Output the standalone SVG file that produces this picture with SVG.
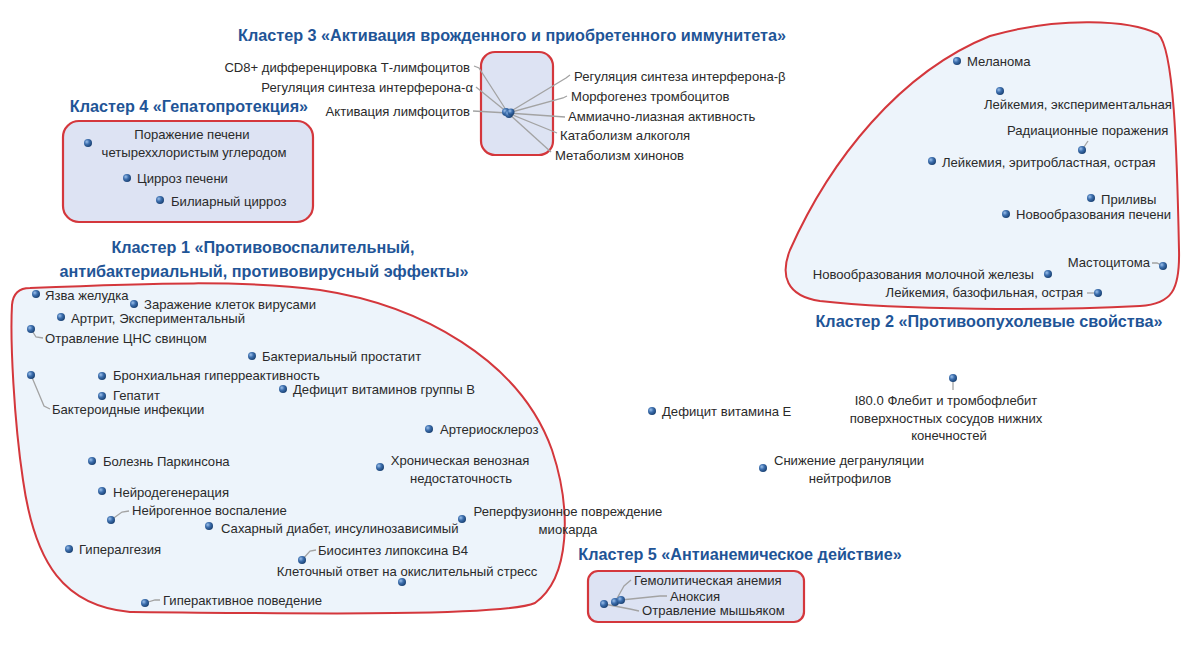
<svg xmlns="http://www.w3.org/2000/svg" width="1200" height="650" viewBox="0 0 1200 650">
<defs>
<radialGradient id="ball" cx="0.35" cy="0.35" r="0.7">
<stop offset="0" stop-color="#9cc0ea"/>
<stop offset="0.45" stop-color="#3d6fae"/>
<stop offset="1" stop-color="#183f70"/>
</radialGradient>
<style>
.t{font-family:"Liberation Sans",Arial,sans-serif;font-size:13.1px;fill:#2a2a2a}
.e{text-anchor:end}
.m{text-anchor:middle}
.h{font-family:"Liberation Sans",Arial,sans-serif;font-size:16.2px;font-weight:bold;fill:#1f5597}
.blob{fill:#edf4fb;stroke:#d4373c;stroke-width:2}
.box{fill:#dde3f3;stroke:#d4373c;stroke-width:2.2}
.d{fill:url(#ball)}
.c{fill:none;stroke:#a3a3a3;stroke-width:1.3}
</style>
</defs>
<rect width="1200" height="650" fill="#ffffff"/>

<!-- cluster containers -->
<g id="cluster1-area"><path class="blob" d="M30,288 C150,283 250,280 320,290 C420,305 520,360 552,450 C572,510 570,578 535,603 C505,616 320,614 130,612 C65,606 35,565 23,480 C14,420 10,340 12,305 C13,293 20,288 30,288 Z"/></g>
<g id="cluster2-area"><path class="blob" d="M790,250 C830,160 900,72 990,36 C1060,16 1130,20 1158,34 C1174,48 1177,150 1179,250 C1180,290 1172,304 1140,306 C1050,311 900,310 820,301 C786,296 780,275 790,250 Z"/></g>
<g id="cluster3-area"><rect class="box" x="481" y="52" width="72" height="103" rx="14"/></g>
<g id="cluster4-area"><rect class="box" x="63" y="121" width="250" height="101" rx="16"/></g>
<g id="cluster5-area"><rect class="box" x="588" y="571" width="216" height="51" rx="10"/></g>

<!-- titles -->
<g id="title3"><text class="h m" x="512" y="41">Кластер 3 «Активация врожденного и приобретенного иммунитета»</text></g>
<g id="title4"><text class="h m" x="189" y="112">Кластер 4 «Гепатопротекция»</text></g>
<g id="title1"><text class="h m" x="263" y="253">Кластер 1 «Противовоспалительный,</text><text class="h m" x="264" y="277">антибактериальный, противовирусный эффекты»</text></g>
<g id="title2"><text class="h m" x="989" y="327">Кластер 2 «Противоопухолевые свойства»</text></g>
<g id="title5"><text class="h m" x="740" y="560">Кластер 5 «Антианемическое действие»</text></g>

<!-- connectors -->
<g id="connectors">
<path class="c" d="M474,66 L479,68 L508,113"/>
<path class="c" d="M476,87 L508,113"/>
<path class="c" d="M473,111 L508,113"/>
<path class="c" d="M570,75 L566,78 L508,113"/>
<path class="c" d="M567,96 L563,98 L508,113"/>
<path class="c" d="M565,117 L508,113"/>
<path class="c" d="M557,133 L508,113"/>
<path class="c" d="M551,152 L508,113"/>
<path class="c" d="M31,329 L36,337 L43,338"/>
<path class="c" d="M31,375 L44,406 L50,409"/>
<path class="c" d="M111,520 L122,512 L129,511"/>
<path class="c" d="M302,560 L310,551 L316,550"/>
<path class="c" d="M145,603 L155,600 L160,600"/>
<path class="c" d="M1082,150 L1088,141"/>
<path class="c" d="M1152,263 L1157,263 L1163,266"/>
<path class="c" d="M1087,293 L1098,293"/>
<path class="c" d="M953,378 L953,390"/>
<path class="c" d="M615,602 L624,586 L631,580"/>
<path class="c" d="M621,600 L660,596 L667,596"/>
<path class="c" d="M604,604 L630,609 L639,611"/>
</g>

<!-- cluster 3 nodes -->
<g id="n3-cd8"><text class="t e" x="470" y="72">CD8+ дифференцировка Т-лимфоцитов</text></g>
<g id="n3-ifa"><text class="t e" x="473" y="92">Регуляция синтеза интерферона-α</text></g>
<g id="n3-act"><text class="t e" x="470" y="116">Активация лимфоцитов</text></g>
<g id="n3-ifb"><text class="t" x="574" y="81">Регуляция синтеза интерферона-β</text></g>
<g id="n3-morph"><text class="t" x="571" y="101">Морфогенез тромбоцитов</text></g>
<g id="n3-amm"><text class="t" x="568" y="121">Аммиачно-лиазная активность</text></g>
<g id="n3-alc"><text class="t" x="560" y="140">Катаболизм алкоголя</text></g>
<g id="n3-quin"><text class="t" x="555" y="160">Метаболизм хинонов</text></g>
<g id="n3-hub"><circle class="d" cx="506" cy="112" r="4"/><circle class="d" cx="509" cy="114" r="4"/><circle class="d" cx="511" cy="112" r="3.5"/></g>

<!-- cluster 4 nodes -->
<g id="n4-ccl4"><circle class="d" cx="88" cy="143" r="4"/><text class="t m" x="192" y="139">Поражение печени</text><text class="t m" x="194" y="157">четыреххлористым углеродом</text></g>
<g id="n4-cirr"><circle class="d" cx="127" cy="178" r="4"/><text class="t" x="137" y="183">Цирроз печени</text></g>
<g id="n4-bil"><circle class="d" cx="160" cy="200" r="4"/><text class="t" x="171" y="206">Билиарный цирроз</text></g>

<!-- cluster 1 nodes -->
<g id="n1-ulcer"><circle class="d" cx="36" cy="294" r="4"/><text class="t" x="45" y="300">Язва желудка</text></g>
<g id="n1-virus"><circle class="d" cx="134" cy="304" r="4"/><text class="t" x="144" y="309">Заражение клеток вирусами</text></g>
<g id="n1-arth"><circle class="d" cx="61" cy="317" r="4"/><text class="t" x="71" y="323">Артрит, Экспериментальный</text></g>
<g id="n1-lead"><circle class="d" cx="31" cy="329" r="4"/><text class="t" x="45" y="343">Отравление ЦНС свинцом</text></g>
<g id="n1-prost"><circle class="d" cx="252" cy="356" r="4"/><text class="t" x="262" y="361">Бактериальный простатит</text></g>
<g id="n1-bronch"><circle class="d" cx="102" cy="376" r="4"/><text class="t" x="113" y="380">Бронхиальная гиперреактивность</text></g>
<g id="n1-hep"><circle class="d" cx="102" cy="396" r="4"/><text class="t" x="113" y="400">Гепатит</text></g>
<g id="n1-vitb"><circle class="d" cx="283" cy="389" r="4"/><text class="t" x="293" y="394">Дефицит витаминов группы В</text></g>
<g id="n1-bact"><circle class="d" cx="31" cy="375" r="4"/><text class="t" x="52" y="414">Бактероидные инфекции</text></g>
<g id="n1-arter"><circle class="d" cx="429" cy="429" r="4"/><text class="t" x="440" y="434">Артериосклероз</text></g>
<g id="n1-park"><circle class="d" cx="92" cy="461" r="4"/><text class="t" x="103" y="466">Болезнь Паркинсона</text></g>
<g id="n1-ven"><circle class="d" cx="380" cy="467" r="4"/><text class="t m" x="460" y="465">Хроническая венозная</text><text class="t m" x="461" y="483">недостаточность</text></g>
<g id="n1-neurod"><circle class="d" cx="102" cy="491" r="4"/><text class="t" x="113" y="497">Нейродегенерация</text></g>
<g id="n1-neuroi"><circle class="d" cx="111" cy="520" r="4"/><text class="t" x="132" y="515">Нейрогенное воспаление</text></g>
<g id="n1-diab"><circle class="d" cx="209" cy="526" r="4"/><text class="t" x="221" y="533">Сахарный диабет, инсулинозависимый</text></g>
<g id="n1-reperf"><circle class="d" cx="462" cy="519" r="4"/><text class="t m" x="568" y="516">Реперфузионное повреждение</text><text class="t m" x="568" y="534">миокарда</text></g>
<g id="n1-hyperalg"><circle class="d" cx="69" cy="549" r="4"/><text class="t" x="79" y="554">Гипералгезия</text></g>
<g id="n1-lipox"><circle class="d" cx="302" cy="560" r="4"/><text class="t" x="318" y="555">Биосинтез липоксина B4</text></g>
<g id="n1-oxid"><circle class="d" cx="402" cy="582" r="4"/><text class="t m" x="407" y="576">Клеточный ответ на окислительный стресс</text></g>
<g id="n1-hyperact"><circle class="d" cx="145" cy="603" r="4"/><text class="t" x="163" y="605">Гиперактивное поведение</text></g>

<!-- cluster 2 nodes -->
<g id="n2-mel"><circle class="d" cx="957" cy="61" r="4"/><text class="t" x="967" y="66">Меланома</text></g>
<g id="n2-leuexp"><circle class="d" cx="1000" cy="91" r="4"/><text class="t" x="984" y="109">Лейкемия, экспериментальная</text></g>
<g id="n2-rad"><circle class="d" cx="1082" cy="150" r="4"/><text class="t" x="1007" y="135">Радиационные поражения</text></g>
<g id="n2-erythro"><circle class="d" cx="932" cy="161" r="4"/><text class="t" x="942" y="167">Лейкемия, эритробластная, острая</text></g>
<g id="n2-flush"><circle class="d" cx="1091" cy="198" r="4"/><text class="t" x="1101" y="204">Приливы</text></g>
<g id="n2-liver"><circle class="d" cx="1006" cy="214" r="4"/><text class="t" x="1016" y="219">Новообразования печени</text></g>
<g id="n2-mast"><circle class="d" cx="1163" cy="266" r="4"/><text class="t e" x="1150" y="267">Мастоцитома</text></g>
<g id="n2-breast"><circle class="d" cx="1048" cy="274" r="4"/><text class="t e" x="1034" y="279">Новообразования молочной железы</text></g>
<g id="n2-baso"><circle class="d" cx="1098" cy="293" r="4"/><text class="t e" x="1083" y="297">Лейкемия, базофильная, острая</text></g>

<!-- unclustered nodes -->
<g id="n-vite"><circle class="d" cx="652" cy="411" r="4"/><text class="t" x="662" y="416">Дефицит витамина Е</text></g>
<g id="n-phleb"><circle class="d" cx="953" cy="378" r="4"/><text class="t m" x="946" y="405">I80.0 Флебит и тромбофлебит</text><text class="t m" x="946" y="423">поверхностных сосудов нижних</text><text class="t m" x="949" y="440">конечностей</text></g>
<g id="n-degr"><circle class="d" cx="763" cy="468" r="4"/><text class="t m" x="849" y="465">Снижение дегрануляции</text><text class="t m" x="850" y="483">нейтрофилов</text></g>

<!-- cluster 5 nodes -->
<g id="n5-hub"><circle class="d" cx="604" cy="604" r="4"/><circle class="d" cx="615" cy="602" r="4"/><circle class="d" cx="621" cy="600" r="4"/></g>
<g id="n5-hemol"><text class="t" x="634" y="585">Гемолитическая анемия</text></g>
<g id="n5-anox"><text class="t" x="670" y="601">Аноксия</text></g>
<g id="n5-arsen"><text class="t" x="642" y="615">Отравление мышьяком</text></g>
</svg>
